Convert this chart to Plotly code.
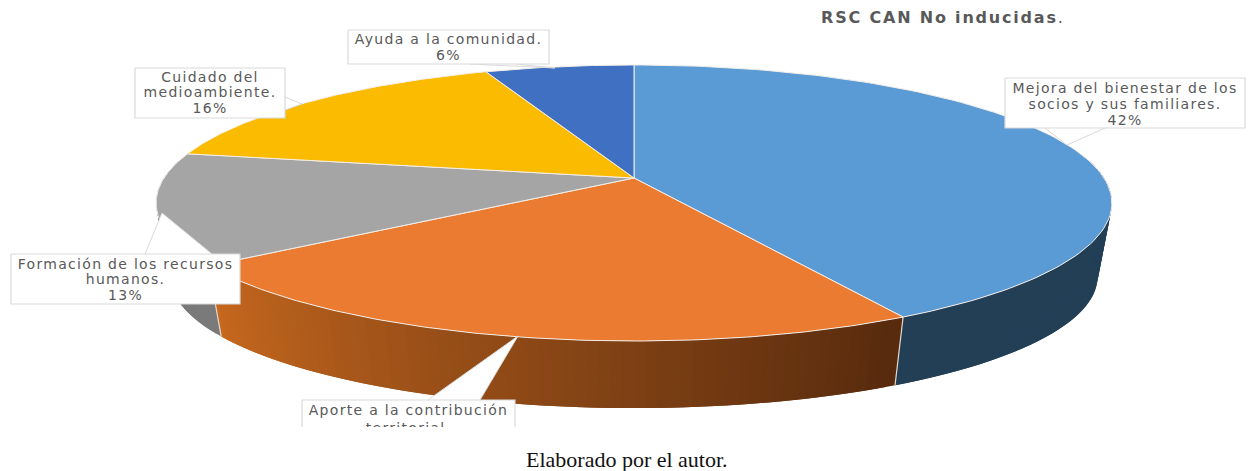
import numpy as np
import plotly.graph_objects as go

# --- data ---
categories = ["Mejora del bienestar", "Aporte territorial", "Formación RRHH", "Medioambiente", "Comunidad"]
values = [42, 23, 13, 16, 6]
top_colors = ["#5B9BD5", "#EA7B30", "#A5A5A5", "#FABB00", "#4070C2"]
wall_left = ["#223F56", "#C8691F", "#757575", "#FABB00", "#4070C2"]
wall_right = ["#223F56", "#582B0E", "#7A7A7A", "#FABB00", "#4070C2"]

label_lines = [
    ["Mejora del bienestar de los", "socios y sus familiares.", "42%"],
    ["Aporte a la contribución", "territorial."],
    ["Formación de los recursos", "humanos.", "13%"],
    ["Cuidado del", "medioambiente.", "16%"],
    ["Ayuda a la comunidad.", "6%"],
]
# box: x0, x1, y0, y1 ; wedge: base a, tip, base b
label_boxes = [(1005, 1245, 78, 128), (302, 515, 400, 445), (11, 240, 254, 304), (135, 285, 68, 118), (348, 549, 30, 64)]
label_wedges = [
    [(1045, 128), (1067, 145), (1105, 128)],
    [(428, 400), (518, 336), (480, 400)],
    [(145, 254), (162, 213), (212, 254)],
    [(285, 97), (302, 104), (285, 110)],
    [(470, 64), (555, 68), (515, 64)],
]
label_first_y = [89, 411, 265, 78, 40]
label_step = [16, 18, 15.5, 15.5, 16]

title_text = ["RSC CAN No inducidas", "."]
source_text = "Elaborado por el autor."

# --- projection of the pie disc ---
CX, CY, R, B, K = 634, 178, 470, 133.5, 0.181
DEPTH, LOWER_B, SHRINK = 75, 127, 0.97


def rim(theta, lower=False):
    u, v = np.sin(theta), np.cos(theta)
    w = 1 + K * v
    if lower:
        return CX + SHRINK * R * u / w, CY + DEPTH - LOWER_B * v / w
    return CX + R * u / w, CY - B * v / w


def lerp_hex(a, b, t):
    ca = [int(a[i:i + 2], 16) for i in (1, 3, 5)]
    cb = [int(b[i:i + 2], 16) for i in (1, 3, 5)]
    return "#%02x%02x%02x" % tuple(round(x + (y - x) * t) for x, y in zip(ca, cb))


fracs = np.cumsum([0] + values) / sum(values)
angles = 2 * np.pi * fracs

fig = go.Figure()


def poly(xs, ys, fill, line=None, width=0.0):
    fig.add_trace(go.Scatter(x=list(xs), y=list(ys), mode="lines", fill="toself", fillcolor=fill,
                             line=dict(color=line or fill, width=width), hoverinfo="skip", showlegend=False))


# side walls: only the part of the rim that faces the viewer
VIS0, VIS1 = np.radians(82), np.radians(278)
for i in range(len(values)):
    a0, a1 = max(angles[i], VIS0), min(angles[i + 1], VIS1)
    if a1 <= a0:
        continue
    n = max(2, int((a1 - a0) / np.radians(1.2)))
    edges = np.linspace(a0, a1, n + 1)
    # strips run from the far end to the near end, each overlapping the next to hide seams
    for j in range(n - 1, -1, -1):
        end = edges[min(j + 2, n)]
        sub = np.linspace(edges[j], end, 5)
        tx, ty = rim(sub)
        bx, by = rim(sub[::-1], True)
        t = 1 - (j + 0.5) / n
        poly(np.r_[tx, bx, tx[0]], np.r_[ty, by, ty[0]], lerp_hex(wall_left[i], wall_right[i], t))

# light seams where walls meet
for a in angles[1:3]:
    xt, yt = rim(a)
    xb, yb = rim(a, True)
    fig.add_trace(go.Scatter(x=[xt, xb], y=[yt, yb], mode="lines", line=dict(color="#E8D8C8", width=1.2),
                             hoverinfo="skip", showlegend=False))

# top surface
for i in range(len(values)):
    th = np.linspace(angles[i], angles[i + 1], 120)
    x, y = rim(th)
    poly(np.r_[CX, x, CX], np.r_[CY, y, CY], top_colors[i], "#F4EEE8", 1.0)

# callouts
for box, wedge in zip(label_boxes, label_wedges):
    x0, x1, y0, y1 = box
    wx = [p[0] for p in wedge]
    wy = [p[1] for p in wedge]
    fig.add_trace(go.Scatter(x=wx, y=wy, mode="lines", fill="toself", fillcolor="white",
                             line=dict(color="#D9D9D9", width=1), hoverinfo="skip", showlegend=False))
    fig.add_trace(go.Scatter(x=[x0, x1, x1, x0, x0], y=[y0, y0, y1, y1, y0], mode="lines", fill="toself",
                             fillcolor="white", line=dict(color="#D9D9D9", width=1.2),
                             hoverinfo="skip", showlegend=False))

# label text
for box, lines, y0, step in zip(label_boxes, label_lines, label_first_y, label_step):
    cx = (box[0] + box[1]) / 2
    fig.add_trace(go.Scatter(x=[cx] * len(lines), y=[y0 + k * step for k in range(len(lines))], mode="text",
                             text=lines, textposition="middle center",
                             textfont=dict(family="DejaVu Sans", size=14, color="#595959"),
                             hoverinfo="skip", showlegend=False))

# the picture is cropped just below the second line of this label
poly([295, 525, 525, 295, 295], [427, 427, 446, 446, 427], "white")

annotations = [
    dict(x=838, y=17, text="<b>" + title_text[0] + "</b>" + title_text[1], showarrow=False, xanchor="left",
         yanchor="middle", font=dict(family="DejaVu Sans", size=16, color="#595959")),
    dict(x=627, y=459, text=source_text, showarrow=False, xanchor="center", yanchor="middle",
         font=dict(family="Liberation Serif", size=22, color="#111111")),
]

fig.update_layout(
    width=1248, height=471, margin=dict(l=0, r=0, t=0, b=0), paper_bgcolor="white", plot_bgcolor="white",
    xaxis=dict(range=[0, 1248], visible=False, fixedrange=True),
    yaxis=dict(range=[471, 0], visible=False, fixedrange=True),
    annotations=annotations, showlegend=False,
)
post = """
document.body.style.margin='0';
document.body.style.overflow='hidden';
document.querySelectorAll('.textpoint text').forEach(function(t){t.style.letterSpacing='1.3px';});
var a=document.querySelectorAll('.annotation-text');
if(a.length){a[0].style.letterSpacing='1.8px';}
"""
fig.write_html("out.html", post_script=post, config={"displayModeBar": False})
